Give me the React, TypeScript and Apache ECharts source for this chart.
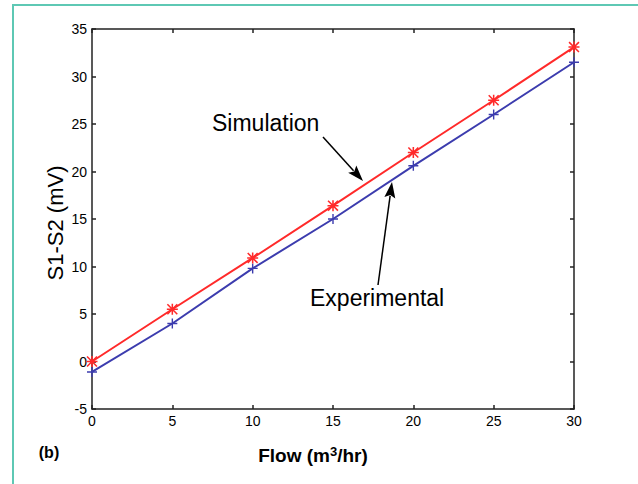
import React, { useEffect, useRef } from "react";
import * as echarts from "echarts";

const flow = [0, 5, 10, 15, 20, 25, 30];
const simulation = [0, 5.5, 10.9, 16.4, 22.0, 27.5, 33.1];
const experimental = [-1.1, 4.0, 9.8, 15.0, 20.6, 26.0, 31.5];

const xMin = 0;
const xMax = 30;
const yMin = -5;
const yMax = 35;
const step = 5;

const RED = "#ff2a2a";
const BLUE = "#3c3cae";
const FONT = "Liberation Sans, Arial, sans-serif";

const PLUS = "path://M4.3,0H5.7V10H4.3Z M0,4.3H10V5.7H0Z";
const STAR =
  "path://M4.3,0H5.7V10H4.3Z M0,4.3H10V5.7H0Z M1,0L10,9L9,10L0,1Z M9,0L10,1L1,10L0,9Z";

function arrow(x1: number, y1: number, x2: number, y2: number) {
  const dx = x2 - x1;
  const dy = y2 - y1;
  const len = Math.sqrt(dx * dx + dy * dy);
  const ux = dx / len;
  const uy = dy / len;
  const L = 16;
  const w = 5.5;
  const bx = x2 - ux * L;
  const by = y2 - uy * L;
  const px = -uy;
  const py = ux;
  return [
    {
      type: "line",
      shape: { x1, y1, x2: bx + ux * 2, y2: by + uy * 2 },
      style: { stroke: "#000", lineWidth: 1.5 },
      z: 50,
    },
    {
      type: "polygon",
      shape: {
        points: [
          [x2, y2],
          [bx + px * w, by + py * w],
          [bx + ux * 3, by + uy * 3],
          [bx - px * w, by - py * w],
        ],
      },
      style: { fill: "#000" },
      z: 50,
    },
  ];
}

export default function App() {
  const ref = useRef<HTMLDivElement>(null);
  useEffect(() => {
    if (!ref.current) return;
    const chart = echarts.init(ref.current, null, { renderer: "svg" });
    const axisCommon = {
      type: "value",
      splitLine: { show: false },
      axisLine: { show: true, onZero: false, lineStyle: { color: "#222", width: 1.5 } },
      axisTick: { show: true, inside: true, length: 4, lineStyle: { color: "#222", width: 1.5 } },
      interval: step,
    };
    chart.setOption({
      animation: false,
      backgroundColor: "#fff",
      grid: { left: 92, top: 29, right: 64, bottom: 75, containLabel: false },
      xAxis: [
        {
          ...axisCommon,
          min: xMin,
          max: xMax,
          position: "bottom",
          axisLabel: { color: "#000", fontSize: 14, fontFamily: FONT, margin: 5 },
        },
        {
          ...axisCommon,
          min: xMin,
          max: xMax,
          position: "top",
          axisLabel: { show: false },
        },
      ],
      yAxis: [
        {
          ...axisCommon,
          min: yMin,
          max: yMax,
          position: "left",
          axisLabel: { color: "#000", fontSize: 14, fontFamily: FONT, margin: 5 },
        },
        {
          ...axisCommon,
          min: yMin,
          max: yMax,
          position: "right",
          axisLabel: { show: false },
        },
      ],
      series: [
        {
          name: "Simulation",
          type: "line",
          data: flow.map((f, i) => [f, simulation[i]]),
          lineStyle: { color: RED, width: 2 },
          itemStyle: { color: RED },
          symbol: STAR,
          symbolSize: 11,
          showAllSymbol: true,
          z: 3,
        },
        {
          name: "Experimental",
          type: "line",
          data: flow.map((f, i) => [f, experimental[i]]),
          lineStyle: { color: BLUE, width: 2 },
          itemStyle: { color: BLUE },
          symbol: PLUS,
          symbolSize: 10,
          showAllSymbol: true,
          z: 2,
        },
      ],
      graphic: [
        {
          type: "polyline",
          shape: { points: [[13, 700], [13, 5], [800, 5]] },
          style: { stroke: "#5ec8b4", lineWidth: 2, fill: "none" },
          z: 100,
        },
        {
          type: "text",
          x: 55,
          y: 223,
          rotation: Math.PI / 2,
          style: {
            text: "S1-S2 (mV)",
            fontSize: 22,
            fontFamily: FONT,
            fill: "#000",
            align: "center",
            verticalAlign: "middle",
          },
        },
        {
          type: "text",
          x: 313,
          y: 455,
          style: {
            text: "{b|Flow (m}{s|3}{b|/hr)}",
            align: "center",
            verticalAlign: "middle",
            rich: {
              b: { fontSize: 19, fontWeight: "bold", fontFamily: FONT, fill: "#000", color: "#000" },
              s: {
                fontSize: 13,
                fontWeight: "bold",
                fontFamily: FONT,
                fill: "#000",
                color: "#000",
                padding: [0, 0, 8, 0],
              },
            },
          },
        },
        {
          type: "text",
          x: 49,
          y: 452,
          style: {
            text: "(b)",
            fontSize: 16,
            fontWeight: "bold",
            fontFamily: FONT,
            fill: "#000",
            align: "center",
            verticalAlign: "middle",
          },
        },
        {
          type: "text",
          x: 212,
          y: 123,
          style: {
            text: "Simulation",
            fontSize: 23,
            fontFamily: FONT,
            fill: "#000",
            align: "left",
            verticalAlign: "middle",
          },
        },
        {
          type: "text",
          x: 310,
          y: 298,
          style: {
            text: "Experimental",
            fontSize: 23,
            fontFamily: FONT,
            fill: "#000",
            align: "left",
            verticalAlign: "middle",
          },
        },
        ...arrow(323, 137, 363, 181),
        ...arrow(378, 285, 392, 182),
      ],
    });
    return () => chart.dispose();
  }, []);
  return (
    <div
      ref={ref}
      style={{ position: "fixed", left: 0, top: 0, width: 638, height: 484 }}
    />
  );
}
